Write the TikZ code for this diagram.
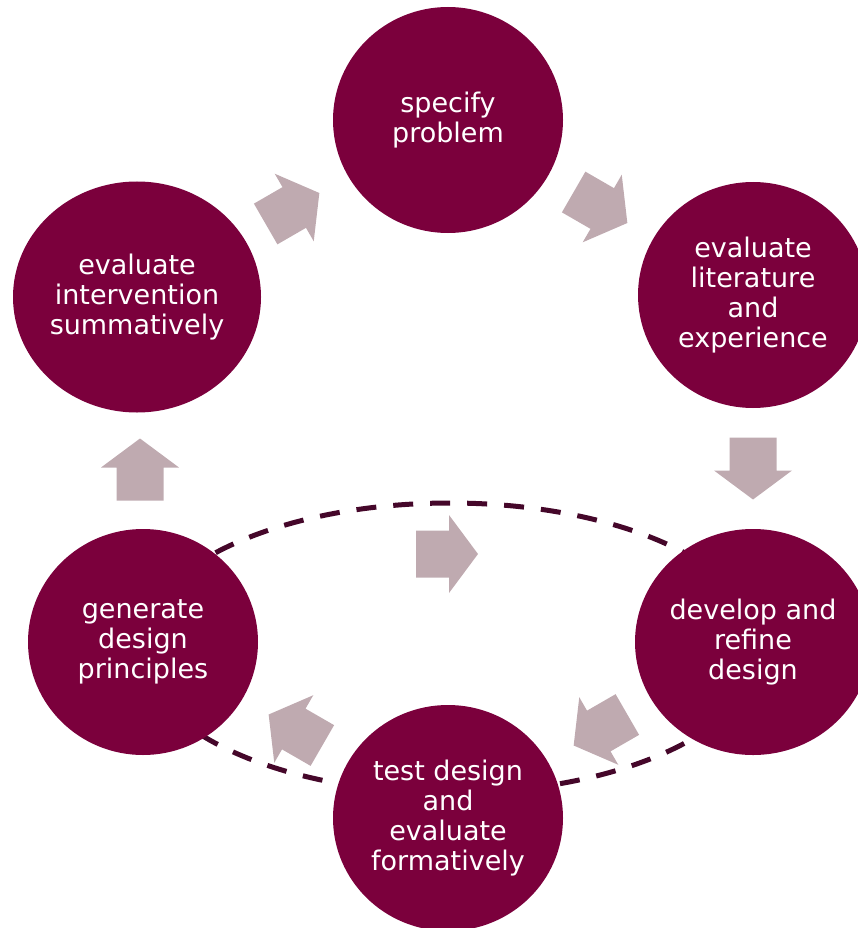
\documentclass[tikz,border=0pt]{standalone}
\usepackage{fontspec}
\setmainfont{DejaVu Sans}
\usepackage{tikz}
\usetikzlibrary{calc, shapes.geometric}
\definecolor{CycleMaroon}{HTML}{7B003C}
\definecolor{ArrowMauve}{HTML}{BFAAB0}
\definecolor{LoopDark}{HTML}{45072A}

\begin{document}
\begin{tikzpicture}[
				x=1pt, y=-1pt,
				stage/.style={
					ellipse,
					fill=CycleMaroon,
					text=white,
					align=center,
					inner sep=0pt,
					minimum width=230pt,
					minimum height=226pt,
					font=\fontsize{27}{30}\selectfont
				},
				blockarrow/.pic={
					\fill[ArrowMauve] (-31,-23.5) -- (2,-23.5) -- (2,-39) -- (31,0)
						-- (2,39) -- (2,23.5) -- (-31,23.5) -- cycle;
				},
				loop/.style={
					draw=LoopDark,
					line width=5pt,
					dash pattern=on 20pt off 17pt
				}
				]
				\useasboundingbox (0,0) rectangle (857,928);
				% inner loop, behind the stages
				\draw[loop] (450,648) ellipse [x radius=311pt, y radius=145pt];
				\node[stage] (spec) at (448,120) {specify\\problem};
				\node[stage] (lit) at (753,295) {evaluate\\literature\\and\\experience};
				\node[stage] (dev) at (753,642) {develop and\\refine\\design};
				\node[stage] (test) at (448,818) {test design\\and\\evaluate\\formatively};
				\node[stage] (gen) at (143,642) {generate\\design\\principles};
				\node[stage, minimum width=248pt, minimum height=231pt] (summ) at (137,297) {evaluate\\intervention\\summatively};
				% arrows between the stages
				\pic[rotate=30] at ($(summ)!0.5!(spec)$) {blockarrow};
				\pic[rotate=-30] at ($(spec)!0.5!(lit)$) {blockarrow};
				\pic[rotate=-90] at ($(lit)!0.5!(dev)$) {blockarrow};
				\pic[rotate=210] at ($(dev)!0.5!(test)$) {blockarrow};
				\pic[rotate=150] at ($(test)!0.5!(gen)$) {blockarrow};
				\pic[rotate=90] at ($(gen)!0.5!(summ)$) {blockarrow};
				\pic at (447,554) {blockarrow};
			\end{tikzpicture}
\end{document}
